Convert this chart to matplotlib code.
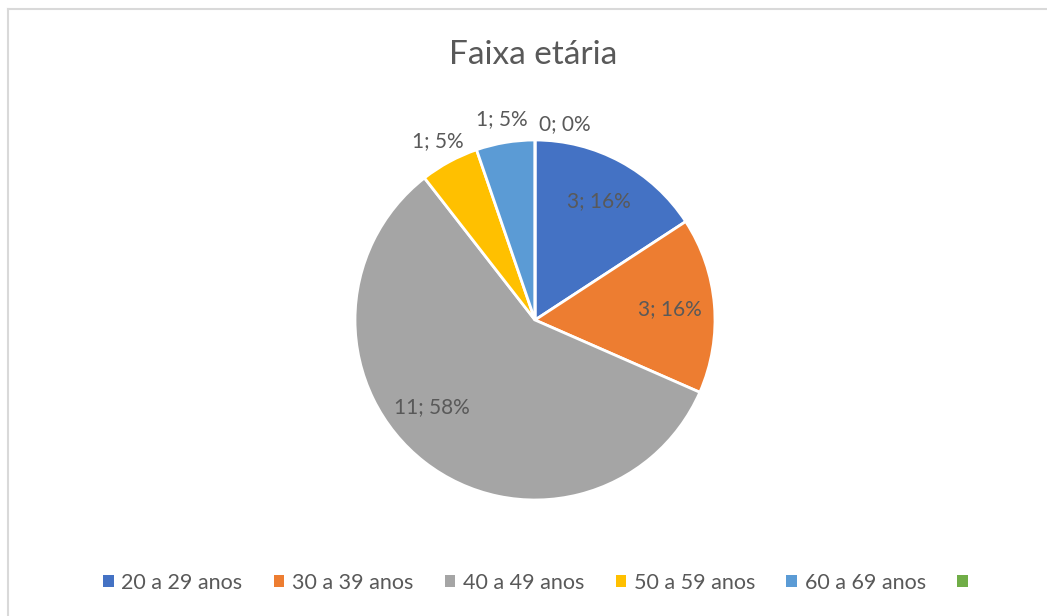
import numpy as np
import matplotlib.pyplot as plt
from matplotlib.patches import Patch

plt.rcParams['font.family'] = ['Lato', 'DejaVu Sans']

categorias = ['20 a 29 anos', '30 a 39 anos', '40 a 49 anos', '50 a 59 anos', '60 a 69 anos', '']
valores = [3, 3, 11, 1, 1, 0]
cores = ['#4472C4', '#ED7D31', '#A5A5A5', '#FFC000', '#5B9BD5', '#70AD47']
texto = '#595959'

W, H = 1047, 616
fig = plt.figure(figsize=(W / 100, H / 100), dpi=100)
ax = fig.add_axes([0, 0, 1, 1])

cx, cy, r = 535, H - 320, 180
wedges, _ = ax.pie(valores, colors=cores, startangle=90, counterclock=False,
                   center=(cx, cy), radius=r,
                   wedgeprops=dict(edgecolor='white', linewidth=2))
ax.set_aspect('auto')
ax.set_xlim(0, W)
ax.set_ylim(0, H)
ax.axis('off')

# borda do grafico (so topo e esquerda aparecem no recorte)
ax.plot([8, W], [H - 9, H - 9], color='#D9D9D9', lw=1.5)
ax.plot([8, 8], [0, H - 9], color='#D9D9D9', lw=1.5)

total = sum(valores)
fs = 15
for i, w in enumerate(wedges):
    v = valores[i]
    lab = f'{v}; {round(100 * v / total)}%'
    ang = np.deg2rad((w.theta1 + w.theta2) / 2)
    if v >= 3:
        d = 0.75
        if i == 2:
            ang = np.deg2rad(220)
        x, y = cx + d * r * np.cos(ang), cy + d * r * np.sin(ang)
        ax.text(x, y, lab, ha='center', va='center', fontsize=fs, color=texto)
    elif v > 0:
        d = 1.13
        x, y = cx + d * r * np.cos(ang), cy + d * r * np.sin(ang)
        ax.text(x, y, lab, ha='center', va='center', fontsize=fs, color=texto)
    else:
        ax.text(cx + 4, cy + 1.09 * r, lab, ha='left', va='center',
                fontsize=fs, color=texto)

ax.text(cx - 2, H - 55, 'Faixa etária', ha='center', va='center', fontsize=24, color=texto)

handles = [Patch(facecolor=c, edgecolor='none') for c in cores]
fig.legend(handles, categorias, loc='center', bbox_to_anchor=(0.515, 1 - 583 / H),
           ncol=6, frameon=False, fontsize=15.5, labelcolor=texto,
           handlelength=0.5, handleheight=0.5, handletextpad=0.35, columnspacing=1.45)

fig.savefig('out.png', dpi=100)
